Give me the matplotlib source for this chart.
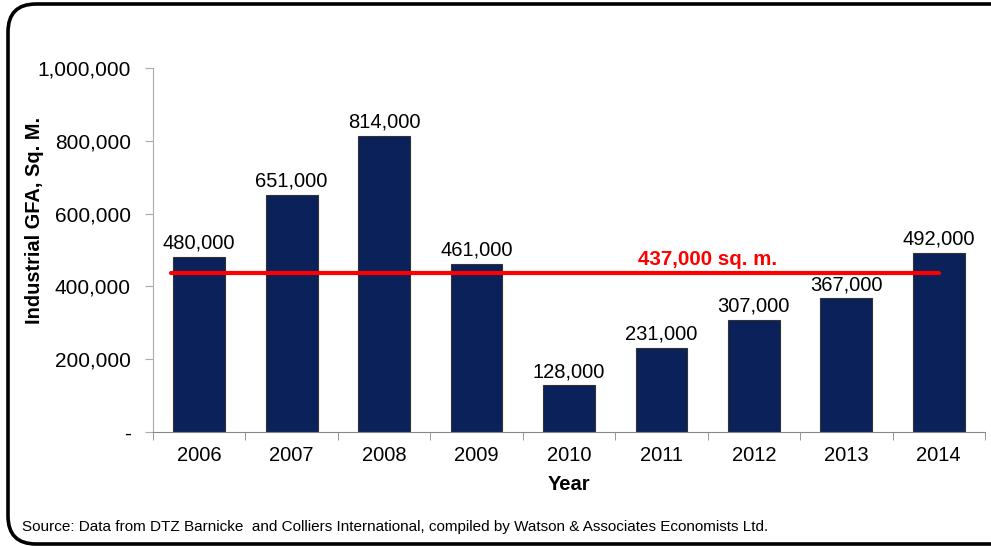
import matplotlib
matplotlib.use("Agg")
import matplotlib.pyplot as plt
from matplotlib.patches import FancyBboxPatch

plt.rcParams['font.family'] = ['Liberation Sans', 'DejaVu Sans']

# data
years = ['2006', '2007', '2008', '2009', '2010', '2011', '2012', '2013', '2014']
gfa = [480000, 651000, 814000, 461000, 128000, 231000, 307000, 367000, 492000]
average = 437000
yticks = [0, 200000, 400000, 600000, 800000, 1000000]
ytick_labels = ['-', '200,000', '400,000', '600,000', '800,000', '1,000,000']

fig = plt.figure(figsize=(9.91, 5.46), dpi=100)

# rounded border around the whole chart, drawn in pixel coords
bg = fig.add_axes([0, 0, 1, 1])
bg.set_xlim(0, 991)
bg.set_ylim(546, 0)
bg.axis('off')
bg.add_patch(FancyBboxPatch((8, 4), 1100, 540, boxstyle="round,pad=0,rounding_size=28",
                            fill=False, lw=2.6, ec='black'))

ax = fig.add_axes([153/991, 1-432/546, 832/991, 364/546])
x = list(range(len(years)))
ax.bar(x, gfa, width=0.56, color='#0B2159', edgecolor='#333333', linewidth=0.8, zorder=2)

for xi, v in zip(x, gfa):
    ax.text(xi, v + 12000, f'{v:,}', ha='center', va='bottom', fontsize=14.5)

ax.plot([-0.3, 8], [average, average], color='#FF0000', lw=3, zorder=3, solid_capstyle='round')
ax.text(5.5, average + 12000, f'{average:,} sq. m.', color='#FF0000', fontweight='bold',
        ha='center', va='bottom', fontsize=14.8)

ax.set_xlim(-0.5, 8.5)
ax.set_ylim(0, 1000000)
ax.set_yticks(yticks)
ax.set_yticklabels(ytick_labels, fontsize=15)
ax.set_xticks(x)
ax.set_xticklabels(years, fontsize=14.5)
ax.tick_params(axis='x', length=0, pad=10)
ax.set_xticks([i - 0.5 for i in range(len(years) + 1)], minor=True)
ax.tick_params(axis='x', which='minor', length=6, color='#888888', direction='out')
ax.tick_params(axis='y', length=6, color='#aaaaaa', direction='out', pad=10)

for s in ['top', 'right']:
    ax.spines[s].set_visible(False)
ax.spines['left'].set_color('#aaaaaa')
ax.spines['bottom'].set_color('#888888')

ax.set_xlabel('Year', fontsize=14.5, fontweight='bold', labelpad=7)
ax.set_ylabel('Industrial GFA, Sq. M.', fontsize=14.4, fontweight='bold', va='center')
ax.yaxis.set_label_coords(-0.143, 0.582)

fig.text(22/991, 1-527/546, 'Source: Data from DTZ Barnicke  and Colliers International, compiled by Watson & Associates Economists Ltd.',
         fontsize=11.0, va='center')

fig.savefig('out.png', dpi=100)
